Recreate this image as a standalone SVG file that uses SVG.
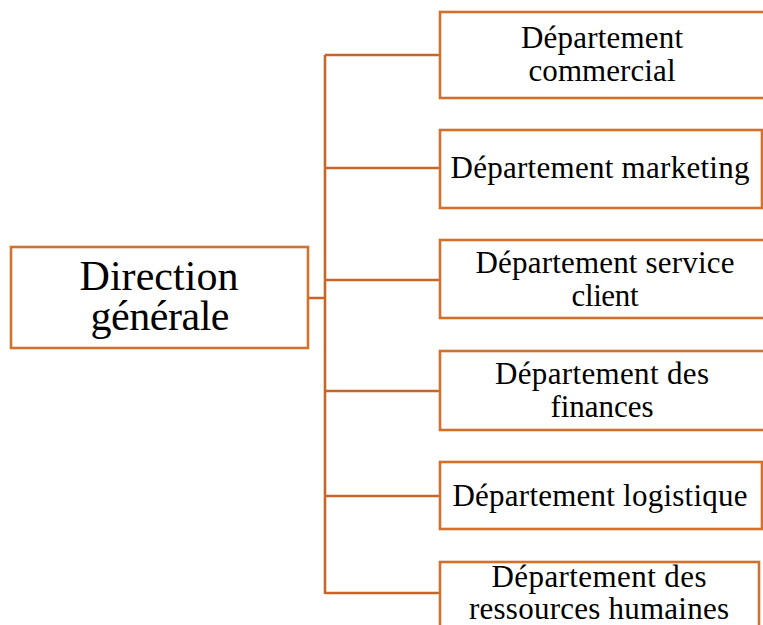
<svg xmlns="http://www.w3.org/2000/svg" width="763" height="625" viewBox="0 0 763 625">
<style>
.box{fill:#fff;stroke:#D2702E;stroke-width:2.6}
.ln{fill:none;stroke:#C8662A;stroke-width:2.6}
.t{font-family:"Liberation Serif","Times New Roman",serif;font-size:31px;fill:#000;text-anchor:middle}
.big{font-size:42px}
</style>
<rect width="763" height="625" fill="#fff"/>
<g id="connectors">
<path class="ln" d="M308 298H325M325 55V594M325 55H440M325 168H440M325 280H440M325 391H440M325 496H440M325 593H440"/>
</g>
<g id="direction">
<rect class="box" x="11" y="247" width="297" height="101"/>
<text class="t big" x="159" y="290" textLength="159" lengthAdjust="spacing">Direction</text>
<text class="t big" x="160" y="330" textLength="139" lengthAdjust="spacing">générale</text>
</g>
<g id="commercial">
<rect class="box" x="440" y="12" width="340" height="86"/>
<text class="t" x="602" y="48" textLength="162" lengthAdjust="spacing">Département</text>
<text class="t" x="602" y="81" textLength="147" lengthAdjust="spacing">commercial</text>
</g>
<g id="marketing">
<rect class="box" x="440" y="130" width="322" height="78"/>
<text class="t" x="600" y="178" textLength="299" lengthAdjust="spacing">Département marketing</text>
</g>
<g id="service">
<rect class="box" x="440" y="240" width="340" height="78"/>
<text class="t" x="605" y="273" textLength="259" lengthAdjust="spacing">Département service</text>
<text class="t" x="605" y="306" textLength="67" lengthAdjust="spacing">client</text>
</g>
<g id="finances">
<rect class="box" x="440" y="351" width="340" height="79"/>
<text class="t" x="602" y="384" textLength="214" lengthAdjust="spacing">Département des</text>
<text class="t" x="602" y="417" textLength="103" lengthAdjust="spacing">finances</text>
</g>
<g id="logistique">
<rect class="box" x="440" y="462" width="322" height="67"/>
<text class="t" x="600" y="506" textLength="295" lengthAdjust="spacing">Département logistique</text>
</g>
<g id="rh">
<rect class="box" x="440" y="562" width="319" height="80"/>
<text class="t" x="599" y="587" textLength="215" lengthAdjust="spacing">Département des</text>
<text class="t" x="599" y="619" textLength="260" lengthAdjust="spacing">ressources humaines</text>
</g>
</svg>
